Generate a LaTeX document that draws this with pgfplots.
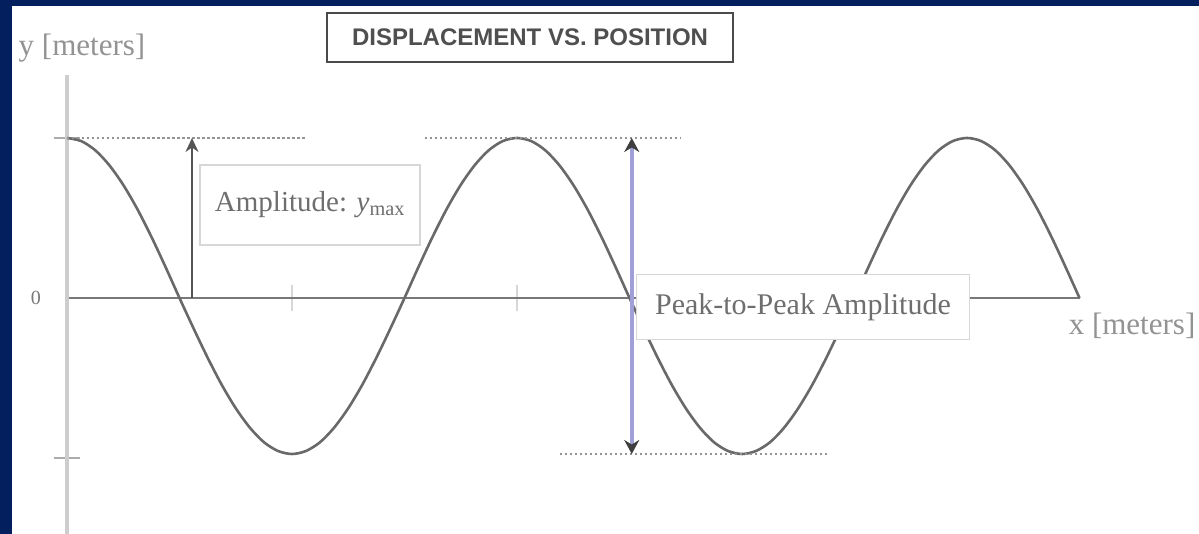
\documentclass[border=0pt]{standalone}
\usepackage{pgfplots}
\pgfplotsset{compat=1.18}
\usepackage{fontspec}
\setmainfont{Liberation Serif}
\newfontfamily\titlefont{Liberation Sans}
\usetikzlibrary{arrows.meta}
\definecolor{navy}{RGB}{3,31,94}
\definecolor{curvegray}{RGB}{105,105,105}
\definecolor{axgray}{RGB}{120,120,120}
\definecolor{ylight}{RGB}{205,205,205}
\definecolor{txtgray}{RGB}{110,110,110}
\definecolor{boxgray}{RGB}{215,215,215}
\definecolor{ptp}{RGB}{160,160,215}
\begin{document}
\begin{tikzpicture}
\fill[white] (-67pt,-236pt) rectangle (1132pt,298pt);
\fill[navy] (-67pt,292pt) rectangle (1132pt,298pt);
\fill[navy] (-67pt,-236pt) rectangle (-55pt,298pt);
\begin{axis}[
  anchor=origin, at={(0,0)},
  x=112.5pt, y=160pt,
  xmin=0, xmax=9, ymin=-1.475, ymax=1.394,
  axis lines*=middle,
  clip=false,
  x axis line style={draw=axgray, line width=2pt},
  y axis line style={draw=ylight, line width=4pt},
  xtick={2,4}, ytick={-1,1},
  xticklabels={}, yticklabels={},
  tick align=center,
  major tick length=26pt,
  xtick style={draw=boxgray, line width=1.5pt},
  ytick style={draw=boxgray!80!black, line width=2pt},
]
\addplot[curvegray, line width=2.6pt, smooth] coordinates {
(0,1) (0.125,0.981) (0.25,0.924) (0.375,0.831) (0.5,0.707) (0.625,0.556) (0.75,0.383) (0.875,0.195)
(1,0) (1.125,-0.190) (1.25,-0.373) (1.375,-0.542) (1.5,-0.689) (1.625,-0.810) (1.75,-0.901) (1.875,-0.956)
(2,-0.975) (2.125,-0.956) (2.25,-0.901) (2.375,-0.810) (2.5,-0.689) (2.625,-0.542) (2.75,-0.373) (2.875,-0.190)
(3,0) (3.125,0.195) (3.25,0.383) (3.375,0.556) (3.5,0.707) (3.625,0.831) (3.75,0.924) (3.875,0.981)
(4,1) (4.125,0.981) (4.25,0.924) (4.375,0.831) (4.5,0.707) (4.625,0.556) (4.75,0.383) (4.875,0.195)
(5,0) (5.125,-0.190) (5.25,-0.373) (5.375,-0.542) (5.5,-0.689) (5.625,-0.810) (5.75,-0.901) (5.875,-0.956)
(6,-0.975) (6.125,-0.956) (6.25,-0.901) (6.375,-0.810) (6.5,-0.689) (6.625,-0.542) (6.75,-0.373) (6.875,-0.190)
(7,0) (7.125,0.195) (7.25,0.383) (7.375,0.556) (7.5,0.707) (7.625,0.831) (7.75,0.924) (7.875,0.981)
(8,1) (8.125,0.981) (8.25,0.924) (8.375,0.831) (8.5,0.707) (8.625,0.556) (8.75,0.383) (8.875,0.195)
(9,0)
};
% dotted reference lines
\draw[axgray!80!white, line width=2.4pt, dash pattern=on 2.5pt off 2.5pt] (axis cs:0,1) -- (axis cs:2.116,1);
\draw[axgray!80!white, line width=2.4pt, dash pattern=on 2.5pt off 2.5pt] (axis cs:3.182,1) -- (axis cs:5.449,1);
\draw[axgray!80!white, line width=2.4pt, dash pattern=on 2.5pt off 2.5pt] (axis cs:4.382,-0.975) -- (axis cs:6.756,-0.975);
% amplitude arrow
\draw[curvegray!80!black, line width=2pt, -{Stealth[length=14pt,width=13pt]}] (axis cs:1.111,0) -- (axis cs:1.111,1);
% peak to peak arrow
\draw[ptp, line width=4.5pt, {Stealth[length=14pt,width=15pt,color=curvegray!60!black]}-{Stealth[length=14pt,width=15pt,color=curvegray!60!black]}] (axis cs:5.02,-0.975) -- (axis cs:5.02,1);
% boxes
\node[draw=boxgray, line width=1.2pt, fill=white, minimum width=220pt, minimum height=80pt, inner sep=0pt, text=txtgray, font=\fontsize{29}{32}\selectfont] at (axis cs:2.16,0.581) {Amplitude: \textit{y}\textsubscript{max}};
\node[draw=boxgray, line width=1.2pt, fill=white, minimum width=333pt, minimum height=65pt, inner sep=0pt, text=txtgray, font=\fontsize{30}{33}\selectfont] at (axis cs:6.542,-0.056) {Peak-to-Peak Amplitude};
% title
\node[draw=curvegray!70!black, line width=1.8pt, fill=white, minimum width=406pt, minimum height=49pt, inner sep=0pt, text=curvegray!75!black, font=\titlefont\bfseries\fontsize{24}{27}\selectfont] at (axis cs:4.116,1.628) {DISPLACEMENT VS. POSITION};
% axis labels
\node[text=axgray!80!white, font=\fontsize{31}{34}\selectfont] at (axis cs:0.133,1.5625) {y [meters]};
\node[text=axgray!80!white, font=\fontsize{31}{34}\selectfont] at (axis cs:9.467,-0.175) {x [meters]};
\node[text=axgray, font=\fontsize{20}{22}\selectfont] at (axis cs:-0.276,0) {0};
\end{axis}
\pgfresetboundingbox
\useasboundingbox (-67pt,-236pt) rectangle (1132pt,298pt);
\end{tikzpicture}
\end{document}
